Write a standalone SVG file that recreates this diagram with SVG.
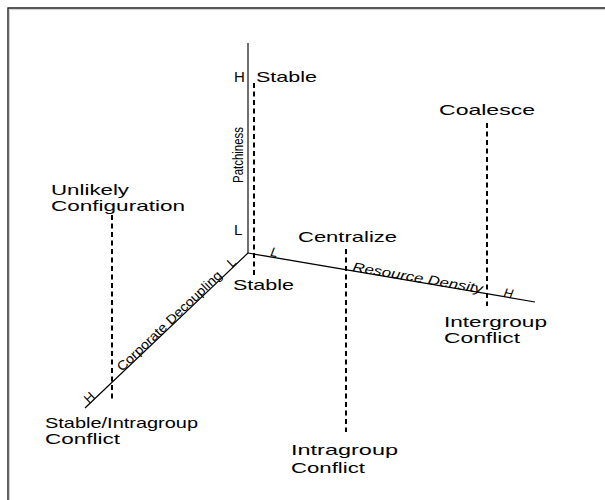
<svg xmlns="http://www.w3.org/2000/svg" width="605" height="500" viewBox="0 0 605 500">
<style>
.t{font-family:"Liberation Sans",Arial,sans-serif;font-size:15px;fill:#000}
.ax{font-family:"Liberation Sans",Arial,sans-serif;font-size:13px;fill:#000}
.it{font-style:italic}
.dash{stroke:#000;stroke-width:2;stroke-dasharray:5,3.5;fill:none}
.axis{stroke:#000;stroke-width:1.2;fill:none}
</style>
<rect width="605" height="500" fill="#fff"/>
<g id="frame">
<path d="M8,500 V8 H605" fill="none" stroke="#222" stroke-width="1.4"/>
<path d="M9.5,500 V9.6 H605" fill="none" stroke="#d0d0d0" stroke-width="1"/>
</g>
<g id="connectors">
<line class="axis" x1="248" y1="43" x2="248" y2="253" style="stroke:#707070;stroke-width:2"/>
<line class="axis" x1="248" y1="253" x2="85" y2="408"/>
<line class="axis" x1="248" y1="253" x2="535" y2="302"/>
<line class="dash" x1="254" y1="83" x2="254" y2="275"/>
<line class="dash" x1="112" y1="215" x2="112" y2="400"/>
<line class="dash" x1="346" y1="249" x2="346" y2="432"/>
<line class="dash" x1="487" y1="123" x2="487" y2="306"/>
</g>
<g id="axis-patchiness">
<text class="ax" style="font-size:15px" transform="translate(243,183) rotate(-90)" textLength="56" lengthAdjust="spacingAndGlyphs">Patchiness</text>
<text class="t" x="234" y="82">H</text>
<text class="t" x="234" y="235">L</text>
</g>
<g id="axis-decoupling">
<text class="ax" transform="translate(122,372) rotate(-43.6)" textLength="139" lengthAdjust="spacingAndGlyphs">Corporate Decoupling</text>
<text class="ax" transform="translate(232,268) rotate(-43.6)">L</text>
<text class="ax" transform="translate(89,404) rotate(-43.6)">H</text>
</g>
<g id="axis-density">
<text class="ax it" transform="translate(352,271) rotate(9.7)" textLength="132" lengthAdjust="spacingAndGlyphs">Resource Density</text>
<text class="ax it" transform="translate(270,256) rotate(9.7)">L</text>
<text class="ax it" transform="translate(503,297) rotate(9.7)">H</text>
</g>
<g id="stable-top"><text class="t" x="256" y="82" textLength="61" lengthAdjust="spacingAndGlyphs">Stable</text></g>
<g id="stable-origin"><text class="t" x="233" y="290" textLength="61" lengthAdjust="spacingAndGlyphs">Stable</text></g>
<g id="coalesce"><text class="t" x="439" y="115" textLength="96" lengthAdjust="spacingAndGlyphs">Coalesce</text></g>
<g id="unlikely">
<text class="t" x="51" y="195" textLength="78" lengthAdjust="spacingAndGlyphs">Unlikely</text>
<text class="t" x="51" y="211" textLength="134" lengthAdjust="spacingAndGlyphs">Configuration</text>
</g>
<g id="centralize"><text class="t" x="298" y="242" textLength="99" lengthAdjust="spacingAndGlyphs">Centralize</text></g>
<g id="intergroup">
<text class="t" x="444" y="327" textLength="103" lengthAdjust="spacingAndGlyphs">Intergroup</text>
<text class="t" x="444" y="343" textLength="76" lengthAdjust="spacingAndGlyphs">Conflict</text>
</g>
<g id="stable-intragroup">
<text class="t" x="45" y="428" textLength="153" lengthAdjust="spacingAndGlyphs">Stable/Intragroup</text>
<text class="t" x="45" y="444" textLength="75" lengthAdjust="spacingAndGlyphs">Conflict</text>
</g>
<g id="intragroup">
<text class="t" x="291" y="455" textLength="107" lengthAdjust="spacingAndGlyphs">Intragroup</text>
<text class="t" x="291" y="473" textLength="74" lengthAdjust="spacingAndGlyphs">Conflict</text>
</g>
</svg>
